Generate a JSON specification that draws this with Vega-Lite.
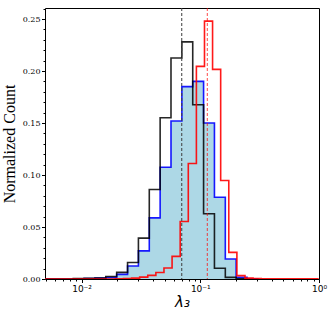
{
  "$schema": "https://vega.github.io/schema/vega-lite/v6.json",
  "width": 274,
  "height": 271,
  "autosize": {"type": "none"},
  "padding": {"left": 45, "top": 8, "right": 13, "bottom": 37},
  "config": {
    "view": {"stroke": "#000000", "strokeWidth": 1},
    "axis": {"grid": false, "domain": false, "tickColor": "#000000", "labelColor": "#000000", "titleColor": "#000000"}
  },
  "datasets": {
    "hist": [
      {"s": "blue", "x": 0.00492, "y": 0},
      {"s": "blue", "x": 0.00851, "y": 0.0003},
      {"s": "blue", "x": 0.01050, "y": 0.0005},
      {"s": "blue", "x": 0.01297, "y": 0.0008},
      {"s": "blue", "x": 0.01601, "y": 0.0015},
      {"s": "blue", "x": 0.01976, "y": 0.0044},
      {"s": "blue", "x": 0.02440, "y": 0.0125},
      {"s": "blue", "x": 0.03012, "y": 0.0270},
      {"s": "blue", "x": 0.03719, "y": 0.0588},
      {"s": "blue", "x": 0.04590, "y": 0.1075},
      {"s": "blue", "x": 0.05666, "y": 0.1520},
      {"s": "blue", "x": 0.06995, "y": 0.1850},
      {"s": "blue", "x": 0.08637, "y": 0.1900},
      {"s": "blue", "x": 0.1066, "y": 0.1500},
      {"s": "blue", "x": 0.1316, "y": 0.0786},
      {"s": "blue", "x": 0.1625, "y": 0.0193},
      {"s": "blue", "x": 0.2005, "y": 0.0016},
      {"s": "blue", "x": 0.2475, "y": 0.0003},
      {"s": "blue", "x": 0.3056, "y": 0},
      {"s": "black", "x": 0.00492, "y": 0},
      {"s": "black", "x": 0.00851, "y": 0.0004},
      {"s": "black", "x": 0.01050, "y": 0.0007},
      {"s": "black", "x": 0.01297, "y": 0.0010},
      {"s": "black", "x": 0.01601, "y": 0.0024},
      {"s": "black", "x": 0.01976, "y": 0.0064},
      {"s": "black", "x": 0.02440, "y": 0.0158},
      {"s": "black", "x": 0.03012, "y": 0.0393},
      {"s": "black", "x": 0.03719, "y": 0.0860},
      {"s": "black", "x": 0.04590, "y": 0.1550},
      {"s": "black", "x": 0.05666, "y": 0.2125},
      {"s": "black", "x": 0.06995, "y": 0.2280},
      {"s": "black", "x": 0.08637, "y": 0.1676},
      {"s": "black", "x": 0.1066, "y": 0.0628},
      {"s": "black", "x": 0.1316, "y": 0.0104},
      {"s": "black", "x": 0.1625, "y": 0.0016},
      {"s": "black", "x": 0.2005, "y": 0.0003},
      {"s": "black", "x": 0.2475, "y": 0},
      {"s": "red", "x": 0.00492, "y": 0},
      {"s": "red", "x": 0.01926, "y": 0.0002},
      {"s": "red", "x": 0.02254, "y": 0.0004},
      {"s": "red", "x": 0.02637, "y": 0.0008},
      {"s": "red", "x": 0.03086, "y": 0.0018},
      {"s": "red", "x": 0.03611, "y": 0.0035},
      {"s": "red", "x": 0.04226, "y": 0.0062},
      {"s": "red", "x": 0.04944, "y": 0.0106},
      {"s": "red", "x": 0.05787, "y": 0.0218},
      {"s": "red", "x": 0.06771, "y": 0.0553},
      {"s": "red", "x": 0.07924, "y": 0.1110},
      {"s": "red", "x": 0.09273, "y": 0.2045},
      {"s": "red", "x": 0.1085, "y": 0.2480},
      {"s": "red", "x": 0.1269, "y": 0.2016},
      {"s": "red", "x": 0.1485, "y": 0.0947},
      {"s": "red", "x": 0.1738, "y": 0.0256},
      {"s": "red", "x": 0.2034, "y": 0.0032},
      {"s": "red", "x": 0.2380, "y": 0.0008},
      {"s": "red", "x": 0.2785, "y": 0.0004},
      {"s": "red", "x": 0.3259, "y": 0.0003},
      {"s": "red", "x": 0.3814, "y": 0.0002},
      {"s": "red", "x": 0.4463, "y": 0.0002},
      {"s": "red", "x": 0.5223, "y": 0.0001},
      {"s": "red", "x": 0.6109, "y": 0.0001},
      {"s": "red", "x": 0.7149, "y": 0.0001},
      {"s": "red", "x": 0.8366, "y": 0.0001},
      {"s": "red", "x": 0.979, "y": 0}
    ],
    "medians": [
      {"s": "black", "x": 0.0697},
      {"s": "red", "x": 0.1146}
    ]
  },
  "encoding": {
    "x": {
      "field": "x", "type": "quantitative",
      "scale": {"type": "log", "domain": [0.00492, 1], "nice": false},
      "axis": {
        "values": [0.005, 0.006, 0.007, 0.008, 0.009, 0.01, 0.02, 0.03, 0.04, 0.05, 0.06, 0.07, 0.08, 0.09, 0.1, 0.2, 0.3, 0.4, 0.5, 0.6, 0.7, 0.8, 0.9, 1],
        "labelExpr": "datum.value == 0.01 ? '10⁻²' : datum.value == 0.1 ? '10⁻¹' : datum.value == 1 ? '10⁰' : ''",
        "tickSize": {"condition": {"test": "indexof([0.01, 0.1, 1], datum.value) >= 0", "value": 3.5}, "value": 2},
        "labelFont": "DejaVu Sans", "labelFontSize": 9, "labelPadding": 2,
        "labelFlush": false, "labelOverlap": false,
        "title": "λ₃", "titleFont": "DejaVu Sans", "titleFontSize": 15, "titleFontStyle": "italic", "titleFontWeight": "normal", "titlePadding": 1
      }
    }
  },
  "layer": [
    {
      "data": {"name": "hist"},
      "encoding": {
        "y": {
          "field": "y", "type": "quantitative",
          "scale": {"domain": [0, 0.2606], "nice": false},
          "axis": {
            "values": [0, 0.01, 0.02, 0.03, 0.04, 0.05, 0.06, 0.07, 0.08, 0.09, 0.1, 0.11, 0.12, 0.13, 0.14, 0.15, 0.16, 0.17, 0.18, 0.19, 0.2, 0.21, 0.22, 0.23, 0.24, 0.25, 0.26],
            "labelExpr": "abs(datum.value*20 - round(datum.value*20)) < 0.000001 ? format(datum.value, '.2f') : ''",
            "tickSize": {"condition": {"test": "abs(datum.value*20 - round(datum.value*20)) < 0.000001", "value": 3.5}, "value": 2},
            "labelFont": "DejaVu Serif", "labelFontSize": 8, "labelPadding": 1.5,
            "labelFlush": false, "labelOverlap": false,
            "title": "Normalized Count", "titleFont": "Liberation Serif", "titleFontSize": 16, "titleFontWeight": "normal", "titlePadding": 5
          }
        }
      },
      "layer": [
        {
          "transform": [{"filter": "datum.s == 'blue'"}],
          "mark": {"type": "area", "interpolate": "step-after", "color": "#add8e6", "opacity": 1, "clip": true}
        },
        {
          "transform": [{"filter": "datum.s == 'blue'"}],
          "mark": {"type": "line", "interpolate": "step-after", "color": "#0000ff", "strokeWidth": 1.6, "opacity": 0.9, "clip": true}
        },
        {
          "transform": [{"filter": "datum.s == 'black'"}],
          "mark": {"type": "line", "interpolate": "step-after", "color": "#000000", "strokeWidth": 1.6, "opacity": 0.85, "clip": true}
        },
        {
          "transform": [{"filter": "datum.s == 'red'"}],
          "mark": {"type": "line", "interpolate": "step-after", "color": "#ff0000", "strokeWidth": 1.6, "opacity": 0.9, "clip": true}
        }
      ]
    },
    {
      "data": {"name": "medians"},
      "transform": [{"filter": "datum.s == 'black'"}],
      "mark": {"type": "rule", "color": "#444444", "strokeWidth": 1.3, "strokeDash": [3, 2], "opacity": 0.8}
    },
    {
      "data": {"name": "medians"},
      "transform": [{"filter": "datum.s == 'red'"}],
      "mark": {"type": "rule", "color": "#ff0000", "strokeWidth": 0.8, "strokeDash": [3, 2], "opacity": 0.9}
    }
  ]
}
